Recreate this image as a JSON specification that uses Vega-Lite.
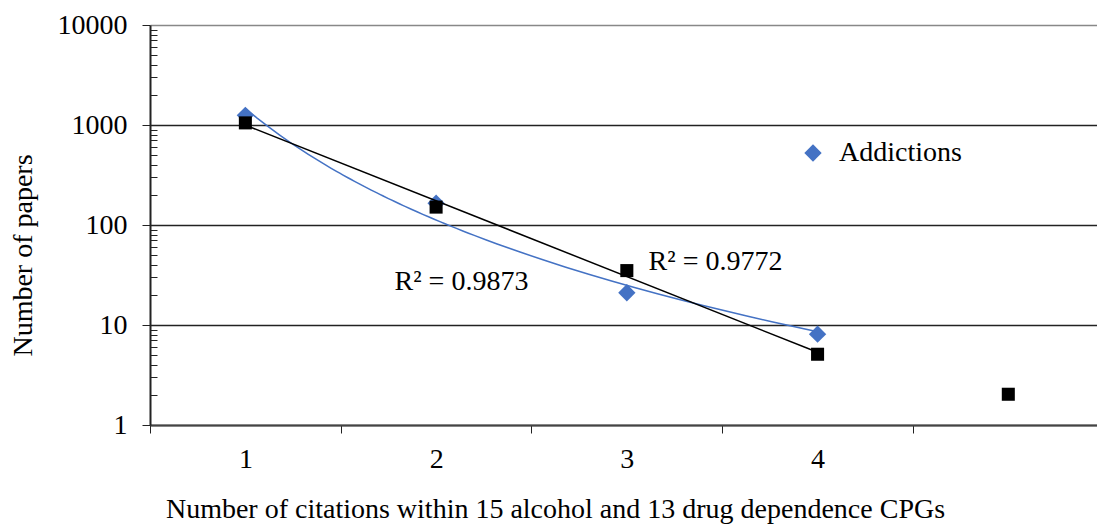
{
  "$schema": "https://vega.github.io/schema/vega-lite/v6.json",
  "width": 947,
  "height": 400,
  "autosize": "none",
  "padding": {"left": 150, "top": 25, "right": 0, "bottom": 100},
  "background": "white",
  "config": {
    "font": "Liberation Serif",
    "view": {"stroke": null},
    "axis": {"labelFont": "Liberation Serif", "titleFont": "Liberation Serif", "labelColor": "black", "titleColor": "black", "titleFontWeight": "normal"},
    "legend": {"labelFont": "Liberation Serif"}
  },
  "datasets": {
    "addictions": [
      {"citations": 1, "papers": 1250, "series": "Addictions"},
      {"citations": 2, "papers": 165, "series": "Addictions"},
      {"citations": 3, "papers": 21, "series": "Addictions"},
      {"citations": 4, "papers": 8.1, "series": "Addictions"}
    ],
    "other": [
      {"citations": 1, "papers": 1050, "log_papers": 3.02},
      {"citations": 2, "papers": 151, "log_papers": 2.18},
      {"citations": 3, "papers": 35, "log_papers": 1.544},
      {"citations": 4, "papers": 5.1, "log_papers": 0.708},
      {"citations": 5, "papers": 2.03, "log_papers": 0.307}
    ],
    "labels": [
      {"citations": 2.133, "papers": 26.9, "label": "R² = 0.9873"},
      {"citations": 3.465, "papers": 42.7, "label": "R² = 0.9772"}
    ]
  },
  "resolve": {"scale": {"y": "independent"}, "axis": {"y": "independent"}},
  "layer": [
    {
      "data": {"name": "addictions"},
      "mark": {"type": "point", "shape": "diamond", "filled": true, "size": 300, "opacity": 1},
      "encoding": {
        "x": {
          "field": "citations", "type": "quantitative",
          "scale": {"domain": [0.5, 5.465], "nice": false, "zero": false},
          "axis": {
            "values": [0.5, 1.5, 2.5, 3.5, 4.5],
            "labelExpr": "datum.value < 4 ? format(datum.value + 0.5, 'd') : ''",
            "labelOffset": 95.4,
            "labelFontSize": 28,
            "labelPadding": 12,
            "labelBound": false,
            "labelOverlap": false,
            "labelFlush": false,
            "tickSize": 8,
            "tickColor": "#222",
            "tickWidth": 1,
            "domainColor": "#444",
            "domainWidth": 2,
            "grid": false,
            "title": "Number of citations within 15 alcohol and 13 drug dependence CPGs",
            "titleFontSize": 28,
            "titleX": 405,
            "titleY": 92,
            "titleBaseline": "alphabetic"
          }
        },
        "y": {
          "field": "papers", "type": "quantitative",
          "scale": {"type": "log", "domain": [1, 10000], "nice": false},
          "axis": {
            "orient": "left",
            "values": [1, 10, 100, 1000, 10000],
            "format": "d",
            "labelFontSize": 28,
            "labelPadding": 15,
            "tickSize": 8,
            "tickColor": "#222",
            "domainColor": "#222",
            "domainWidth": 2,
            "grid": true,
            "gridColor": {"condition": {"test": "datum.value == 10000", "value": "#888"}, "value": "#222"},
            "gridWidth": 1.3,
            "title": "Number of papers",
            "titleFontSize": 28,
            "titleX": -119,
            "titleY": 230,
            "titleBaseline": "alphabetic"
          }
        },
        "color": {
          "field": "series", "type": "nominal",
          "scale": {"range": ["#4472C4"]},
          "legend": {
            "title": null,
            "orient": "none",
            "legendX": 649,
            "legendY": 114,
            "symbolType": "diamond",
            "symbolSize": 300,
            "symbolStrokeWidth": 0,
            "labelFontSize": 28,
            "labelColor": "black",
            "labelOffset": 12
          }
        }
      }
    },
    {
      "data": {"name": "other"},
      "mark": {"type": "point", "shape": "square", "filled": true, "size": 170, "color": "black", "opacity": 1},
      "encoding": {
        "x": {"field": "citations", "type": "quantitative"},
        "y": {
          "field": "papers", "type": "quantitative",
          "scale": {"type": "log", "domain": [1, 10000], "nice": false},
          "axis": {
            "orient": "left",
            "values": [2, 3, 4, 5, 6, 7, 8, 9, 20, 30, 40, 50, 60, 70, 80, 90, 200, 300, 400, 500, 600, 700, 800, 900, 2000, 3000, 4000, 5000, 6000, 7000, 8000, 9000],
            "labels": false,
            "domain": false,
            "grid": false,
            "tickSize": -7,
            "tickColor": "#222",
            "tickWidth": 1,
            "title": null
          }
        }
      }
    },
    {
      "data": {"name": "addictions"},
      "transform": [
        {"regression": "papers", "on": "citations", "method": "pow", "extent": [1, 4]}
      ],
      "mark": {"type": "line", "color": "#4472C4", "strokeWidth": 1.5},
      "encoding": {
        "x": {"field": "citations", "type": "quantitative"},
        "y": {
          "field": "papers", "type": "quantitative",
          "scale": {"type": "log", "domain": [1, 10000], "nice": false},
          "axis": null
        }
      }
    },
    {
      "data": {"name": "other"},
      "transform": [
        {"filter": "datum.citations <= 4"},
        {"regression": "log_papers", "on": "citations", "method": "linear", "extent": [1, 4]}
      ],
      "mark": {"type": "line", "color": "black", "strokeWidth": 1.5},
      "encoding": {
        "x": {"field": "citations", "type": "quantitative"},
        "y": {
          "field": "log_papers", "type": "quantitative",
          "scale": {"type": "linear", "domain": [0, 4], "nice": false, "zero": false},
          "axis": null
        }
      }
    },
    {
      "data": {"name": "labels"},
      "mark": {"type": "text", "fontSize": 28, "align": "center", "baseline": "middle", "color": "black", "font": "Liberation Serif"},
      "encoding": {
        "x": {"field": "citations", "type": "quantitative"},
        "y": {
          "field": "papers", "type": "quantitative",
          "scale": {"type": "log", "domain": [1, 10000], "nice": false},
          "axis": null
        },
        "text": {"field": "label"}
      }
    }
  ]
}
